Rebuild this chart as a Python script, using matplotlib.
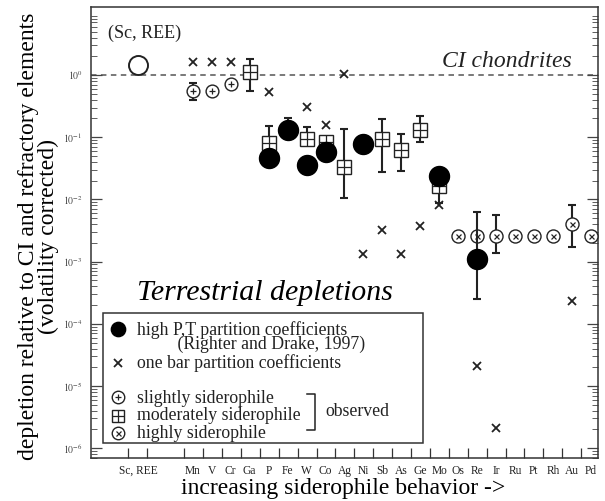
"""Terrestrial depletions of siderophile and refractory elements relative to CI."""

import matplotlib
matplotlib.use("Agg")
import matplotlib.pyplot as plt
from matplotlib.lines import Line2D
from matplotlib.patches import Rectangle
from matplotlib.ticker import FixedLocator, LogLocator, NullFormatter

plt.rcParams["font.family"] = ["Liberation Serif", "DejaVu Serif"]
plt.rcParams["mathtext.fontset"] = "stix"

INK = "#222222"

# element order along the x axis (Sc,REE first, then a gap)
ELEMENTS = ["Mn", "V", "Cr", "Ga", "P", "Fe", "W", "Co", "Ag", "Ni", "Sb",
            "As", "Ge", "Mo", "Os", "Re", "Ir", "Ru", "Pt", "Rh", "Au", "Pd"]
REFRACTORY_LABEL = "Sc, REE"
REFRACTORY_VALUE = [1.45]

# high P,T partition coefficients (Righter and Drake, 1997)
pt_names = ["P", "Fe", "W", "Co", "Ni", "Mo", "Re"]
pt_values = [0.047, 0.13, 0.036, 0.058, 0.077, 0.024, 0.0011]
pt_lo = [None, 0.12, None, None, None, None, 2.5e-4]
pt_hi = [None, 0.206, None, None, None, None, 0.0063]

# one bar partition coefficients
onebar_names = ["Mn", "V", "Cr", "P", "W", "Co", "Ag", "Ni", "Sb", "As",
                "Ge", "Mo", "Re", "Ir", "Au"]
onebar_values = [1.6, 1.6, 1.6, 0.54, 0.31, 0.157, 1.03, 0.00132, 0.0032,
                 0.00132, 0.0037, 0.0080, 2.1e-5, 2.1e-6, 2.3e-4]

# observed: slightly siderophile
slight_names = ["Mn", "V", "Cr"]
slight_values = [0.56, 0.56, 0.71]
slight_lo = [0.39, None, None]
slight_hi = [0.75, None, None]

# observed: moderately siderophile
moderate_names = ["Ga", "P", "W", "Co", "Ag", "Sb", "As", "Ge", "Mo"]
moderate_values = [1.1, 0.080, 0.092, 0.085, 0.0336, 0.092, 0.062, 0.13, 0.0164]
moderate_lo = [0.56, None, None, None, 0.0104, 0.0279, 0.0286, 0.083, 0.0087]
moderate_hi = [1.8, 0.153, 0.148, None, 0.134, 0.196, 0.113, 0.22, None]

# observed: highly siderophile
highly_names = ["Os", "Re", "Ir", "Ru", "Pt", "Rh", "Au", "Pd"]
highly_values = [0.0026, 0.0026, 0.0026, 0.0026, 0.0026, 0.0026, 0.0040, 0.0026]
highly_lo = [None, None, 0.00139, None, None, None, 0.00174, None]
highly_hi = [None, None, 0.0056, None, None, None, 0.0081, None]

POS = {name: i for i, name in zip(range(3, 25), ELEMENTS)}
POS[REFRACTORY_LABEL] = 0.1


def xs(names):
    return [POS[n] for n in names]


def fig_xy(x, y):
    """Figure-pixel position (from top-left) to figure fraction."""
    return x / 605, 1 - y / 501


def error_bars(ax, names, values, lo, hi, z):
    for n, v, a, b in zip(names, values, lo, hi):
        if a is None and b is None:
            continue
        down = v - a if a is not None else 0
        up = b - v if b is not None else 0
        ax.errorbar([POS[n]], [v], yerr=[[down], [up]], fmt="none", ecolor=INK,
                    elinewidth=1.5, capsize=2.6, capthick=1.5, zorder=z)


fig = plt.figure(figsize=(6.05, 5.01), dpi=100)
ax = fig.add_axes([91 / 605, 43 / 501, 507 / 605, 451 / 501])
ax.set_yscale("log")
ax.set_xlim(-2.375, 24.38)
ax.set_ylim(6.95e-7, 12.4)

ax.axhline(1.0, color="#555555", lw=1.1, ls=(0, (3.6, 2.9)), zorder=1)

# moderately siderophile (square with plus)
error_bars(ax, moderate_names, moderate_values, moderate_lo, moderate_hi, 2)
ax.plot(xs(moderate_names), moderate_values, "s", ms=9.6, mfc="white",
        mec=INK, mew=1.0, ls="none", zorder=3)
ax.plot(xs(moderate_names), moderate_values, "+", ms=9.6, mec=INK, mew=0.9,
        ls="none", zorder=3)

# slightly siderophile (circle with small plus)
error_bars(ax, slight_names, slight_values, slight_lo, slight_hi, 2)
ax.plot(xs(slight_names), slight_values, "o", ms=9.2, mfc="white", mec=INK,
        mew=1.0, ls="none", zorder=3)
ax.plot(xs(slight_names), slight_values, "+", ms=4.2, mec=INK, mew=0.9,
        ls="none", zorder=3)

# highly siderophile (circle with small x)
error_bars(ax, highly_names, highly_values, highly_lo, highly_hi, 2)
ax.plot(xs(highly_names), highly_values, "o", ms=9.4, mfc="white", mec=INK,
        mew=1.0, ls="none", zorder=3)
ax.plot(xs(highly_names), highly_values, "x", ms=3.6, mec=INK, mew=0.9,
        ls="none", zorder=3)

# one bar partition coefficients
ax.plot(xs(onebar_names), onebar_values, "x", ms=5.4, mec=INK, mew=1.3,
        ls="none", zorder=4)

# high P,T partition coefficients
error_bars(ax, pt_names, pt_values, pt_lo, pt_hi, 4.5)
ax.plot(xs(pt_names), pt_values, "o", ms=14.4, mfc="black", mec="black",
        ls="none", zorder=5)

# Sc, REE
ax.plot(xs([REFRACTORY_LABEL]), REFRACTORY_VALUE, "o", ms=13.7, mfc="white",
        mec=INK, mew=1.4, ls="none", zorder=5)

# axes styling
for side in ax.spines.values():
    side.set_color("#333333")
    side.set_linewidth(1.1)

tick_slots = [0, 1] + list(range(3, 25))
ax.xaxis.set_major_locator(FixedLocator([-0.44 + s * 0.997 for s in tick_slots]))
ax.xaxis.set_major_formatter(NullFormatter())
ax.set_xticks([POS[REFRACTORY_LABEL]] + list(range(3, 25)),
              labels=[REFRACTORY_LABEL] + ELEMENTS, minor=True)
ax.tick_params(axis="x", which="major", direction="in", length=7, width=0.9,
               color="#333333", top=False)
ax.tick_params(axis="x", which="minor", length=0, pad=5, labelsize=8.3,
               colors="#222222")

decades = [10.0 ** k for k in range(-6, 1)]
ax.set_yticks(decades, labels=[rf"$10^{{{k}}}$" for k in range(-6, 1)])
ax.yaxis.set_minor_locator(LogLocator(base=10, subs=range(2, 10), numticks=20))
ax.yaxis.set_minor_formatter(NullFormatter())
ax.tick_params(axis="y", which="both", direction="in", left=True, right=True,
               color="#444444")
ax.tick_params(axis="y", which="major", length=8, width=0.9, labelsize=7,
               labelcolor="#444444", pad=6)
ax.tick_params(axis="y", which="minor", length=4, width=0.6)

# annotations
fig.text(*fig_xy(145, 38), "(Sc, REE)", ha="center", va="baseline",
         fontsize=13, color=INK)
fig.text(*fig_xy(507, 67), "CI chondrites", ha="center", va="baseline",
         fontsize=17, style="italic", color=INK)
fig.text(*fig_xy(265, 300), "Terrestrial depletions", ha="center", va="baseline",
         fontsize=21.5, style="italic", color="black")

# legend box
x0, y0 = fig_xy(103, 443)
fig.add_artist(Rectangle((x0, y0), 320 / 605, 130 / 501, transform=fig.transFigure,
                         fill=False, lw=1.1, ec="#333333"))


def legend_marker(x, y, **kw):
    fx, fy = fig_xy(x, y)
    fig.add_artist(Line2D([fx], [fy], transform=fig.transFigure, ls="none", **kw))


legend_marker(117.5, 328.5, marker="o", ms=10.3, mfc="black", mec="black")
legend_marker(118.3, 363, marker="x", ms=5.4, mec=INK, mew=1.3)
legend_marker(118.3, 397, marker="o", ms=9.0, mfc="white", mec=INK, mew=1.0)
legend_marker(118.3, 397, marker="+", ms=4.2, mec=INK, mew=0.9)
legend_marker(118.3, 415.5, marker="s", ms=9.2, mfc="white", mec=INK, mew=1.0)
legend_marker(118.3, 415.5, marker="+", ms=9.2, mec=INK, mew=0.9)
legend_marker(118.3, 432.5, marker="o", ms=9.0, mfc="white", mec=INK, mew=1.0)
legend_marker(118.3, 432.5, marker="x", ms=3.6, mec=INK, mew=0.9)

# two-line entry kept as one text so the lines sit tight like the original
fig.text(*fig_xy(137, 349),
         "high P,T partition coefficients\n" + " " * 9 + "(Righter and Drake, 1997)",
         ha="left", va="baseline", fontsize=12.8, linespacing=0.72, color=INK)

legend_lines = [
    (137, 367.5, "one bar partition coefficients"),
    (137, 403, "slightly siderophile"),
    (137, 420.5, "moderately siderophile"),
    (137, 437.5, "highly siderophile"),
    (325, 416, "observed"),
]
for lx, ly, txt in legend_lines:
    fig.text(*fig_xy(lx, ly), txt, ha="left", va="baseline", fontsize=12.8, color=INK)

bx = [307, 315, 315, 307]
by = [394, 394, 430, 430]
fig.add_artist(Line2D([x / 605 for x in bx], [1 - y / 501 for y in by],
                      transform=fig.transFigure, color=INK, lw=1.1))

# axis titles
fig.text(*fig_xy(343, 494), "increasing siderophile behavior ->", ha="center",
         va="baseline", fontsize=17, color="black")
fig.text(*fig_xy(38.5, 236), "depletion relative to CI and refractory elements\n"
         "(volatility corrected)", ha="center", va="center", rotation=90,
         fontsize=17, linespacing=0.98, multialignment="center", color="black")

fig.savefig("out.png", dpi=100)
